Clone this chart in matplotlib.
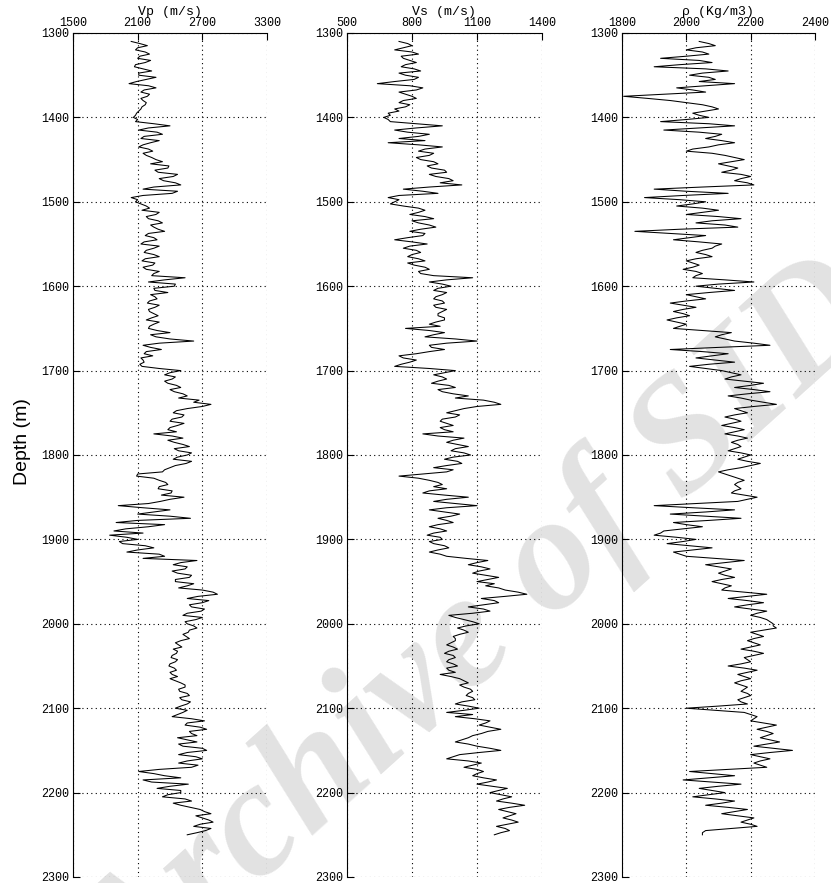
import numpy as np
import matplotlib
matplotlib.use('Agg')
import matplotlib.pyplot as plt

# well log readings, 1310 - 2250 m every 5 m, plus the in-between
# readings at 1312.5, 1317.5, ... 2247.5 m
depth_top = 1310
depth_step = 5

vp = [
    2040, 2190, 2080, 2210, 2100, 2170, 2070, 2230, 2110, 2180,
    2020, 2270, 2130, 2190, 2150, 2170, 2130, 2090, 2060, 2080,
    2400, 2110, 2330, 2130, 2220, 2110, 2240, 2180, 2270, 2220,
    2380, 2290, 2430, 2340, 2500, 2150, 2420, 2040, 2080, 2180,
    2140, 2270, 2200, 2330, 2250, 2350, 2170, 2280, 2130, 2250,
    2160, 2300, 2140, 2240, 2180, 2250, 2540, 2200, 2440, 2260,
    2220, 2280, 2190, 2260, 2210, 2290, 2180, 2250, 2200, 2400,
    2270, 2620, 2150, 2320, 2160, 2130, 2160, 2140, 2500, 2350,
    2420, 2380, 2500, 2440, 2560, 2670, 2780, 2560, 2430, 2510,
    2400, 2470, 2380, 2250, 2520, 2440, 2580, 2480, 2560, 2430,
    2550, 2400, 2330, 2090, 2300, 2380, 2290, 2410, 2530, 2310,
    1920, 2400, 2100, 2590, 1900, 2200, 1880, 1840, 2100, 1960,
    2250, 2000, 2350, 2650, 2430, 2540, 2470, 2580, 2450, 2560,
    2700, 2840, 2560, 2700, 2600, 2690, 2520, 2640, 2560, 2650,
    2570, 2550, 2500, 2480, 2430, 2460, 2410, 2450, 2390, 2460,
    2420, 2400, 2500, 2540, 2490, 2580, 2510, 2560, 2450, 2520,
    2420, 2720, 2540, 2740, 2600, 2470, 2650, 2520, 2740, 2480,
    2700, 2480, 2600, 2110, 2350, 2150, 2570, 2280, 2500, 2330,
    2600, 2500, 2680, 2780, 2700, 2800, 2620, 2730, 2560,
]
vp_mid = [
    2120, 2100, 2170, 2120, 2220, 2080, 2150, 2110, 2270, 2090,
    2200, 2160, 2210, 2130, 2180, 2140, 2110, 2080, 2100, 2250,
    2200, 2280, 2160, 2300, 2150, 2200, 2150, 2230, 2330, 2390,
    2260, 2470, 2300, 2450, 2250, 2470, 2150, 2100, 2130, 2210,
    2300, 2180, 2290, 2220, 2290, 2200, 2250, 2160, 2300, 2180,
    2250, 2170, 2260, 2150, 2300, 2230, 2350, 2450, 2250, 2380,
    2260, 2210, 2300, 2200, 2250, 2230, 2300, 2210, 2280, 2220,
    2400, 2300, 2220, 2180, 2240, 2150, 2120, 2300, 2400, 2450,
    2350, 2460, 2400, 2520, 2480, 2620, 2700, 2460, 2530, 2420,
    2530, 2400, 2460, 2420, 2380, 2520, 2440, 2600, 2470, 2600,
    2450, 2350, 2100, 2250, 2360, 2300, 2420, 2320, 2400, 2200,
    2150, 2250, 2400, 2100, 2350, 1990, 2150, 2000, 1930, 2170,
    2100, 2300, 2150, 2500, 2560, 2420, 2600, 2450, 2620, 2480,
    2800, 2660, 2760, 2580, 2720, 2560, 2700, 2540, 2620, 2580,
    2520, 2580, 2450, 2510, 2470, 2420, 2470, 2400, 2440, 2400,
    2470, 2450, 2540, 2480, 2560, 2490, 2590, 2500, 2560, 2470,
    2600, 2560, 2680, 2580, 2650, 2560, 2480, 2700, 2560, 2640,
    2560, 2660, 2300, 2250, 2500, 2230, 2400, 2500, 2380, 2540,
    2430, 2590, 2720, 2640, 2760, 2680, 2780, 2650,
]

vs = [
    740, 800, 720, 830, 760, 820, 750, 840, 770, 810,
    640, 850, 740, 800, 760, 790, 720, 690, 670, 700,
    940, 720, 880, 740, 690, 940, 830, 880, 840, 920,
    890, 960, 910, 990, 1030, 760, 920, 690, 720, 760,
    860, 790, 900, 830, 910, 790, 850, 720, 870, 760,
    840, 780, 860, 810, 880, 840, 1080, 880, 980, 900,
    940, 900, 950, 910, 940, 920, 950, 880, 770, 950,
    860, 1100, 880, 950, 820, 760, 790, 720, 1000, 900,
    960, 890, 1000, 940, 1060, 1130, 1210, 1040, 960, 1000,
    930, 990, 950, 850, 1040, 960, 1060, 980, 1070, 950,
    1030, 900, 960, 740, 880, 940, 960, 850, 1060, 900,
    1100, 880, 1020, 920, 990, 880, 960, 870, 940, 900,
    970, 880, 960, 1150, 1060, 1160, 1080, 1200, 1100, 1140,
    1230, 1330, 1120, 1200, 1060, 1160, 970, 1040, 1110, 1010,
    1060, 990, 1000, 960, 1010, 950, 1000, 960, 1010, 970,
    930, 1020, 1060, 1040, 1080, 1050, 1090, 1000, 1110, 960,
    1000, 1160, 1110, 1210, 1120, 1060, 1000, 1100, 1210, 1020,
    960, 1120, 1040, 1130, 1080, 1190, 1100, 1240, 1160, 1260,
    1190, 1320, 1200, 1280, 1220, 1290, 1190, 1250, 1180,
]
vs_mid = [
    780, 760, 800, 750, 790, 770, 810, 740, 830, 720,
    790, 820, 770, 820, 740, 770, 740, 700, 690, 820,
    820, 780, 830, 860, 830, 860, 900, 820, 900, 870,
    950, 880, 970, 930, 880, 850, 740, 740, 700, 830,
    830, 860, 800, 880, 840, 860, 780, 800, 790, 820,
    800, 830, 780, 860, 830, 900, 960, 940, 920, 960,
    910, 940, 900, 960, 920, 950, 910, 930, 880, 900,
    1000, 960, 890, 880, 740, 820, 750, 880, 950, 940,
    920, 970, 920, 990, 1000, 1180, 1100, 1000, 1020, 940,
    960, 930, 990, 920, 990, 1010, 1000, 1040, 990, 1010,
    960, 990, 850, 830, 920, 900, 880, 950, 960, 1000,
    960, 950, 980, 960, 920, 930, 900, 930, 880, 950,
    920, 930, 1050, 1100, 1120, 1110, 1140, 1150, 1180, 1200,
    1290, 1230, 1180, 1130, 1130, 1080, 1000, 1080, 1050, 1040,
    1020, 1000, 980, 990, 970, 990, 970, 990, 960, 1000,
    980, 1040, 1020, 1070, 1060, 1080, 1030, 1060, 1040, 1080,
    1090, 1140, 1160, 1150, 1080, 1030, 1060, 1160, 1110, 990,
    1060, 1080, 1100, 1100, 1130, 1150, 1170, 1200, 1210, 1220,
    1260, 1250, 1240, 1250, 1260, 1240, 1230, 1210,
]

rho = [
    2040, 2090, 2000, 2070, 1920, 2080, 1900, 2130, 2010, 2090,
    2150, 1970, 2060, 1805, 1950, 2050, 2100, 2020, 2070, 1920,
    2150, 1930, 2110, 2060, 2150, 2070, 2000, 2120, 2180, 2100,
    2160, 2110, 2200, 2150, 2210, 1900, 2130, 1870, 2060, 1970,
    2100, 2000, 2170, 2030, 2160, 1840, 2060, 1960, 2110, 2080,
    2030, 2080, 2000, 2040, 1990, 2050, 2020, 2210, 2030, 2150,
    2000, 2060, 1950, 2030, 1960, 2010, 1940, 2000, 1960, 2140,
    2090, 2150, 2260, 1950, 2130, 2030, 2150, 2010, 2110, 2170,
    2120, 2240, 2150, 2260, 2130, 2200, 2280, 2150, 2190, 2120,
    2170, 2110, 2180, 2120, 2190, 2140, 2170, 2130, 2200, 2160,
    2230, 2170, 2100, 2140, 2180, 2150, 2170, 2140, 2220, 2160,
    1900, 2150, 1950, 2170, 1960, 2050, 1930, 1900, 2030, 1940,
    2080, 1960, 2000, 2180, 2060, 2140, 2100, 2150, 2080, 2140,
    2110, 2250, 2130, 2240, 2150, 2250, 2200, 2250, 2270, 2280,
    2200, 2240, 2190, 2230, 2170, 2240, 2180, 2200, 2130, 2220,
    2160, 2200, 2150, 2190, 2170, 2200, 2160, 2190, 2000, 2180,
    2220, 2200, 2280, 2220, 2270, 2230, 2290, 2210, 2330, 2200,
    2260, 2210, 2250, 2010, 2150, 1990, 2170, 2040, 2120, 2020,
    2150, 2060, 2190, 2110, 2210, 2170, 2220, 2060, 2050,
]
rho_mid = [
    2070, 2030, 2050, 2000, 2040, 1980, 2060, 2050, 2070, 2040,
    2060, 2020, 1930, 1880, 2000, 2080, 2060, 2040, 2000, 2070,
    2040, 2040, 2090, 2110, 2100, 2020, 2080, 2150, 2140, 2130,
    2140, 2170, 2170, 2190, 2050, 2000, 1990, 1980, 2020, 2050,
    2050, 2100, 2080, 2120, 1980, 1950, 2010, 2040, 2090, 2050,
    2060, 2030, 2020, 2020, 2030, 2030, 2120, 2100, 2090, 2070,
    2030, 2000, 1990, 1990, 1990, 1970, 1970, 1980, 2050, 2110,
    2120, 2210, 2100, 2050, 2080, 2090, 2070, 2060, 2140, 2140,
    2180, 2200, 2210, 2190, 2170, 2240, 2210, 2170, 2150, 2150,
    2140, 2150, 2150, 2160, 2160, 2160, 2150, 2170, 2180, 2190,
    2200, 2130, 2120, 2160, 2160, 2160, 2150, 2180, 2190, 2030,
    2020, 2060, 2060, 2070, 2000, 1990, 1920, 1970, 1990, 2010,
    2020, 1980, 2090, 2120, 2100, 2120, 2120, 2110, 2110, 2120,
    2180, 2190, 2190, 2190, 2200, 2220, 2230, 2260, 2270, 2240,
    2220, 2210, 2210, 2200, 2210, 2210, 2190, 2170, 2180, 2190,
    2180, 2170, 2170, 2180, 2190, 2180, 2170, 2100, 2090, 2200,
    2210, 2240, 2250, 2250, 2250, 2260, 2250, 2270, 2260, 2230,
    2230, 2230, 2130, 2080, 2070, 2080, 2100, 2080, 2070, 2090,
    2110, 2130, 2150, 2160, 2190, 2200, 2140, 2050,
]

titles = ['Vp (m/s)', 'Vs (m/s)', '\u03c1 (Kg/m3)']
xticks = [[1500, 2100, 2700, 3300], [500, 800, 1100, 1400], [1800, 2000, 2200, 2400]]
yticks = [1300, 1400, 1500, 1600, 1700, 1800, 1900, 2000, 2100, 2200, 2300]


def merge(main, mid):
    # interleave the 5 m readings with the half-step ones
    out = np.empty(len(main) + len(mid))
    out[0::2] = main
    out[1::2] = mid
    return out


n = len(vp)
depth = depth_top + depth_step / 2 * np.arange(2 * n - 1)
logs = [merge(vp, vp_mid), merge(vs, vs_mid), merge(rho, rho_mid)]

mono = 'Liberation Mono'

fig = plt.figure(figsize=(8.31, 8.83), dpi=100)

lefts = [73 / 831, 347 / 831, 622 / 831]
widths = [194 / 831, 195 / 831, 193 / 831]
bottom = 6 / 883
height = 844 / 883

for i, data in enumerate(logs):
    ax = fig.add_axes([lefts[i], bottom, widths[i], height])
    ax.set_facecolor('none')
    ax.plot(data, depth, color='black', lw=0.75, zorder=3)

    ax.set_xlim(xticks[i][0], xticks[i][-1])
    ax.set_ylim(2300, 1300)
    ax.set_xticks(xticks[i])
    ax.set_yticks(yticks)
    ax.xaxis.tick_top()
    ax.tick_params(axis='both', direction='in', length=5, width=0.8,
                   labelsize=8.5, pad=3, top=True, bottom=False, right=False)
    for lab in ax.get_xticklabels() + ax.get_yticklabels():
        lab.set_fontfamily(mono)

    ax.grid(True, color='black', linestyle=(0, (1, 3)), linewidth=0.8)
    ax.spines['right'].set_visible(False)
    ax.spines['bottom'].set_visible(False)
    for s in ['left', 'top']:
        ax.spines[s].set_linewidth(0.8)

    ax.text(0.5, 1 + 15 / 845, titles[i], transform=ax.transAxes,
            ha='center', va='bottom', fontsize=9.5, family=mono)

fig.text(0.0265, 0.4995, 'Depth (m)', rotation=90, ha='center', va='center',
         fontsize=14, family='Liberation Sans')

# faint watermark behind the logs
fig.text(0.58, 0.28, 'Archive of SID', rotation=42, rotation_mode='anchor',
         ha='center', va='center', fontsize=118, fontstyle='italic',
         fontweight='bold', family='Liberation Serif', color='#e2e2e2',
         zorder=-1)

fig.savefig('out.png', dpi=100)
